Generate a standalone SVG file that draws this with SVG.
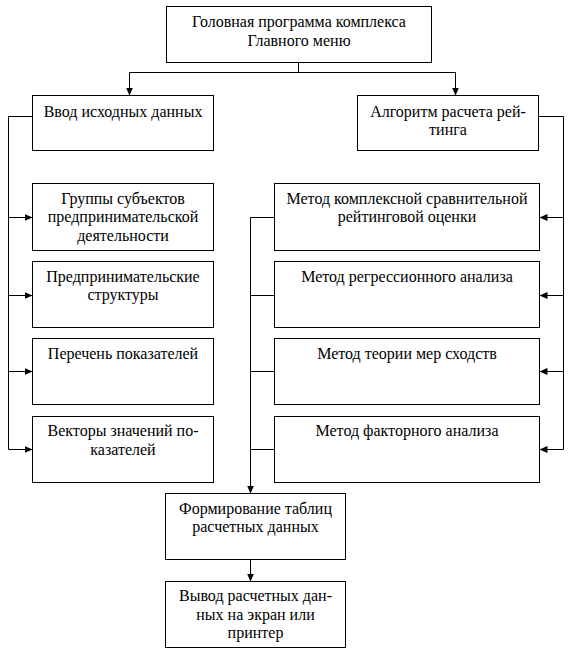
<svg xmlns="http://www.w3.org/2000/svg" width="577" height="660" viewBox="0 0 577 660">
<style>
.box{fill:#fff;stroke:#000;stroke-width:1}
.t{font-family:"Liberation Serif","Times New Roman",serif;font-size:16px;fill:#000;text-anchor:middle}
.c{fill:none;stroke:#000;stroke-width:1}
</style>
<defs>
<marker id="ah" markerUnits="userSpaceOnUse" markerWidth="9" markerHeight="8" refX="8" refY="3.5" orient="auto">
<path d="M0,0 L8,3.5 L0,7 z" fill="#000"/>
</marker>
</defs>
<rect width="577" height="660" fill="#fff"/>
<g id="connectors">
<path class="c" d="M298.5,62.5 V72.5 M129.5,72.5 H455.5"/>
<path class="c" d="M129.5,72.5 V95.5" marker-end="url(#ah)"/>
<path class="c" d="M455.5,72.5 V95.5" marker-end="url(#ah)"/>
<path class="c" d="M32.5,116.5 H8.5 V449.5"/>
<path class="c" d="M8.5,217.5 H32.5" marker-end="url(#ah)"/>
<path class="c" d="M8.5,295.5 H32.5" marker-end="url(#ah)"/>
<path class="c" d="M8.5,371.5 H32.5" marker-end="url(#ah)"/>
<path class="c" d="M8.5,449.5 H32.5" marker-end="url(#ah)"/>
<path class="c" d="M538.5,116.5 H563.5 V449.5"/>
<path class="c" d="M563.5,217.5 H539.5" marker-end="url(#ah)"/>
<path class="c" d="M563.5,295.5 H539.5" marker-end="url(#ah)"/>
<path class="c" d="M563.5,371.5 H539.5" marker-end="url(#ah)"/>
<path class="c" d="M563.5,449.5 H539.5" marker-end="url(#ah)"/>
<path class="c" d="M274.5,217.5 H250.5 V493.5" marker-end="url(#ah)"/>
<path class="c" d="M250.5,295.5 H274.5 M250.5,371.5 H274.5 M250.5,449.5 H274.5"/>
<path class="c" d="M250.5,559.5 V581.5" marker-end="url(#ah)"/>
</g>
<g id="main">
<rect class="box" x="166.5" y="6.5" width="265" height="56"/>
<text class="t" x="299" y="27">Головная программа комплекса</text>
<text class="t" x="299" y="45.5">Главного меню</text>
</g>
<g id="input">
<rect class="box" x="32.5" y="95.5" width="181" height="55"/>
<text class="t" x="123" y="116.5">Ввод исходных данных</text>
</g>
<g id="algo">
<rect class="box" x="357.5" y="95.5" width="181" height="55"/>
<text class="t" x="448" y="116.5">Алгоритм расчета рей-</text>
<text class="t" x="448" y="134.5">тинга</text>
</g>
<g id="groups">
<rect class="box" x="32.5" y="183.5" width="181" height="67"/>
<text class="t" x="123" y="203.5">Группы субъектов</text>
<text class="t" x="123" y="222">предпринимательской</text>
<text class="t" x="123" y="240.5">деятельности</text>
</g>
<g id="structures">
<rect class="box" x="32.5" y="261.5" width="181" height="66"/>
<text class="t" x="123" y="281.5">Предпринимательские</text>
<text class="t" x="123" y="300">структуры</text>
</g>
<g id="indicators">
<rect class="box" x="32.5" y="338.5" width="181" height="66"/>
<text class="t" x="123" y="358.5">Перечень показателей</text>
</g>
<g id="vectors">
<rect class="box" x="32.5" y="416.5" width="181" height="66"/>
<text class="t" x="123" y="436">Векторы значений по-</text>
<text class="t" x="123" y="454.5">казателей</text>
</g>
<g id="m1">
<rect class="box" x="274.5" y="183.5" width="265" height="67"/>
<text class="t" x="407" y="203.5">Метод комплексной сравнительной</text>
<text class="t" x="407" y="222">рейтинговой оценки</text>
</g>
<g id="m2">
<rect class="box" x="274.5" y="261.5" width="265" height="66"/>
<text class="t" x="407" y="281.5">Метод регрессионного анализа</text>
</g>
<g id="m3">
<rect class="box" x="274.5" y="338.5" width="265" height="66"/>
<text class="t" x="407" y="358.5">Метод теории мер сходств</text>
</g>
<g id="m4">
<rect class="box" x="274.5" y="416.5" width="265" height="66"/>
<text class="t" x="407" y="436">Метод факторного анализа</text>
</g>
<g id="tables">
<rect class="box" x="165.5" y="493.5" width="180" height="66"/>
<text class="t" x="255.5" y="513.5">Формирование таблиц</text>
<text class="t" x="255.5" y="532">расчетных данных</text>
</g>
<g id="output">
<rect class="box" x="165.5" y="581.5" width="180" height="66"/>
<text class="t" x="255.5" y="601">Вывод расчетных дан-</text>
<text class="t" x="255.5" y="619.5">ных на экран или</text>
<text class="t" x="255.5" y="638">принтер</text>
</g>
</svg>
